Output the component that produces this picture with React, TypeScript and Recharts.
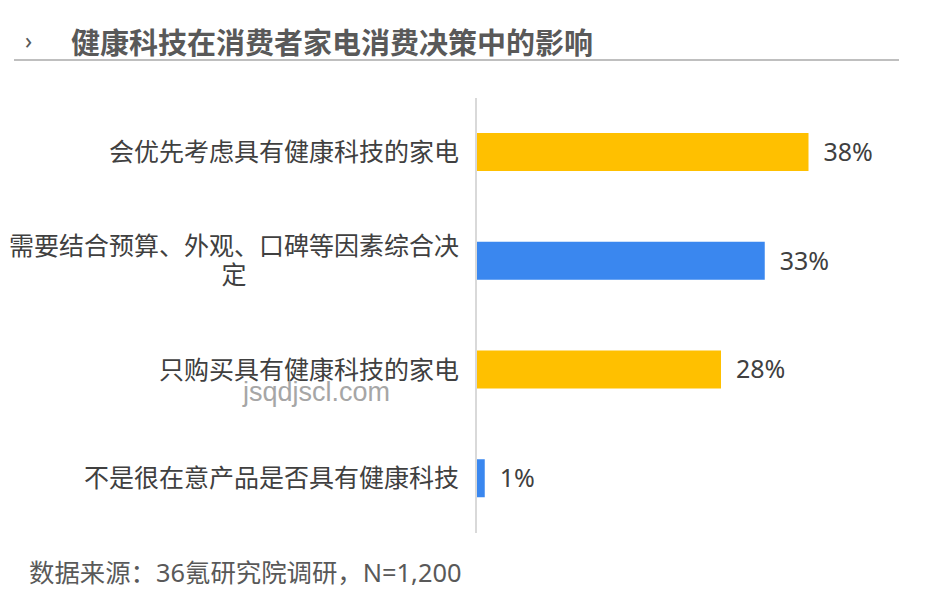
import React from "react";
import { BarChart, Bar, XAxis, YAxis, Cell, LabelList } from "recharts";

const categories = [
  "会优先考虑具有健康科技的家电",
  "需要结合预算、外观、口碑等因素综合决定",
  "只购买具有健康科技的家电",
  "不是很在意产品是否具有健康科技",
];
const shares = [38, 33, 28, 1];
const barColors = ["#FFC000", "#3A87EF", "#FFC000", "#3A87EF"];

const FONT = '"Noto Sans", "Noto Sans CJK SC", sans-serif';
const CJK = '"Noto Sans CJK SC", "Noto Sans", sans-serif';
const LABEL_SIZE = 25;
const MAX_CHARS = 18;

const data = categories.map((name, i) => ({ name, value: shares[i] }));

const CategoryTick = (props: any) => {
  const { x, y, payload } = props;
  const text: string = payload.value;
  const lines: string[] = [];
  for (let i = 0; i < text.length; i += MAX_CHARS) lines.push(text.slice(i, i + MAX_CHARS));
  if (lines.length === 1) {
    return (
      <text x={x} y={y} dy="0.35em" textAnchor="end" fill="#404040" fontSize={LABEL_SIZE} fontFamily={CJK}>
        {text}
      </text>
    );
  }
  const cx = x - (MAX_CHARS * LABEL_SIZE) / 2;
  const lh = 29;
  const top = y - ((lines.length - 1) * lh) / 2;
  return (
    <g>
      {lines.map((l, i) => (
        <text key={i} x={cx} y={top + i * lh} dy="0.35em" textAnchor="middle" fill="#404040" fontSize={LABEL_SIZE} fontFamily={CJK}>
          {l}
        </text>
      ))}
    </g>
  );
};

export default function App() {
  return (
    <div style={{ position: "absolute", left: 0, top: 0, width: 950, height: 599, background: "#fff", overflow: "hidden" }}>
      {/* title */}
      <div style={{ position: "absolute", left: 25, top: 25, fontSize: 23, color: "#595959", fontFamily: FONT, lineHeight: "30px" }}>›</div>
      <div style={{ position: "absolute", left: 71, top: 21, fontSize: 29, fontWeight: 700, color: "#595959", fontFamily: CJK, lineHeight: "40px", whiteSpace: "nowrap" }}>
        健康科技在消费者家电消费决策中的影响
      </div>
      <div style={{ position: "absolute", left: 14, top: 59, width: 885, height: 2, background: "#BFBFBF" }} />

      <div style={{ position: "absolute", left: 0, top: 0 }}>
        <BarChart
          width={950}
          height={599}
          data={data}
          layout="vertical"
          margin={{ top: 98, right: 124, bottom: 66, left: 0 }}
        >
          <XAxis type="number" domain={[0, 40]} hide />
          <YAxis
            type="category"
            dataKey="name"
            width={476}
            axisLine={{ stroke: "#D9D9D9", strokeWidth: 2 }}
            tickLine={false}
            tickSize={0}
            tickMargin={17}
            tick={<CategoryTick />}
            interval={0}
          />
          <Bar dataKey="value" barSize={38} isAnimationActive={false}>
            {data.map((d, i) => (
              <Cell key={d.name} fill={barColors[i]} />
            ))}
            <LabelList
              dataKey="value"
              position="right"
              offset={15}
              formatter={(v: any) => `${v}%`}
              fill="#404040"
              fontSize={25}
              fontFamily={FONT}
            />
          </Bar>
        </BarChart>
      </div>

      {/* watermark */}
      <div style={{ position: "absolute", left: 243, top: 376, fontSize: 27, color: "#A6A6A6", fontFamily: '"Liberation Sans", Arial, sans-serif', lineHeight: "32px" }}>
        jsqdjscl.com
      </div>

      {/* source */}
      <div style={{ position: "absolute", left: 29, top: 555, fontSize: 25.4, color: "#595959", fontFamily: FONT, lineHeight: "34px", whiteSpace: "nowrap" }}>
        数据来源：36氪研究院调研，N=1,200
      </div>
    </div>
  );
}
